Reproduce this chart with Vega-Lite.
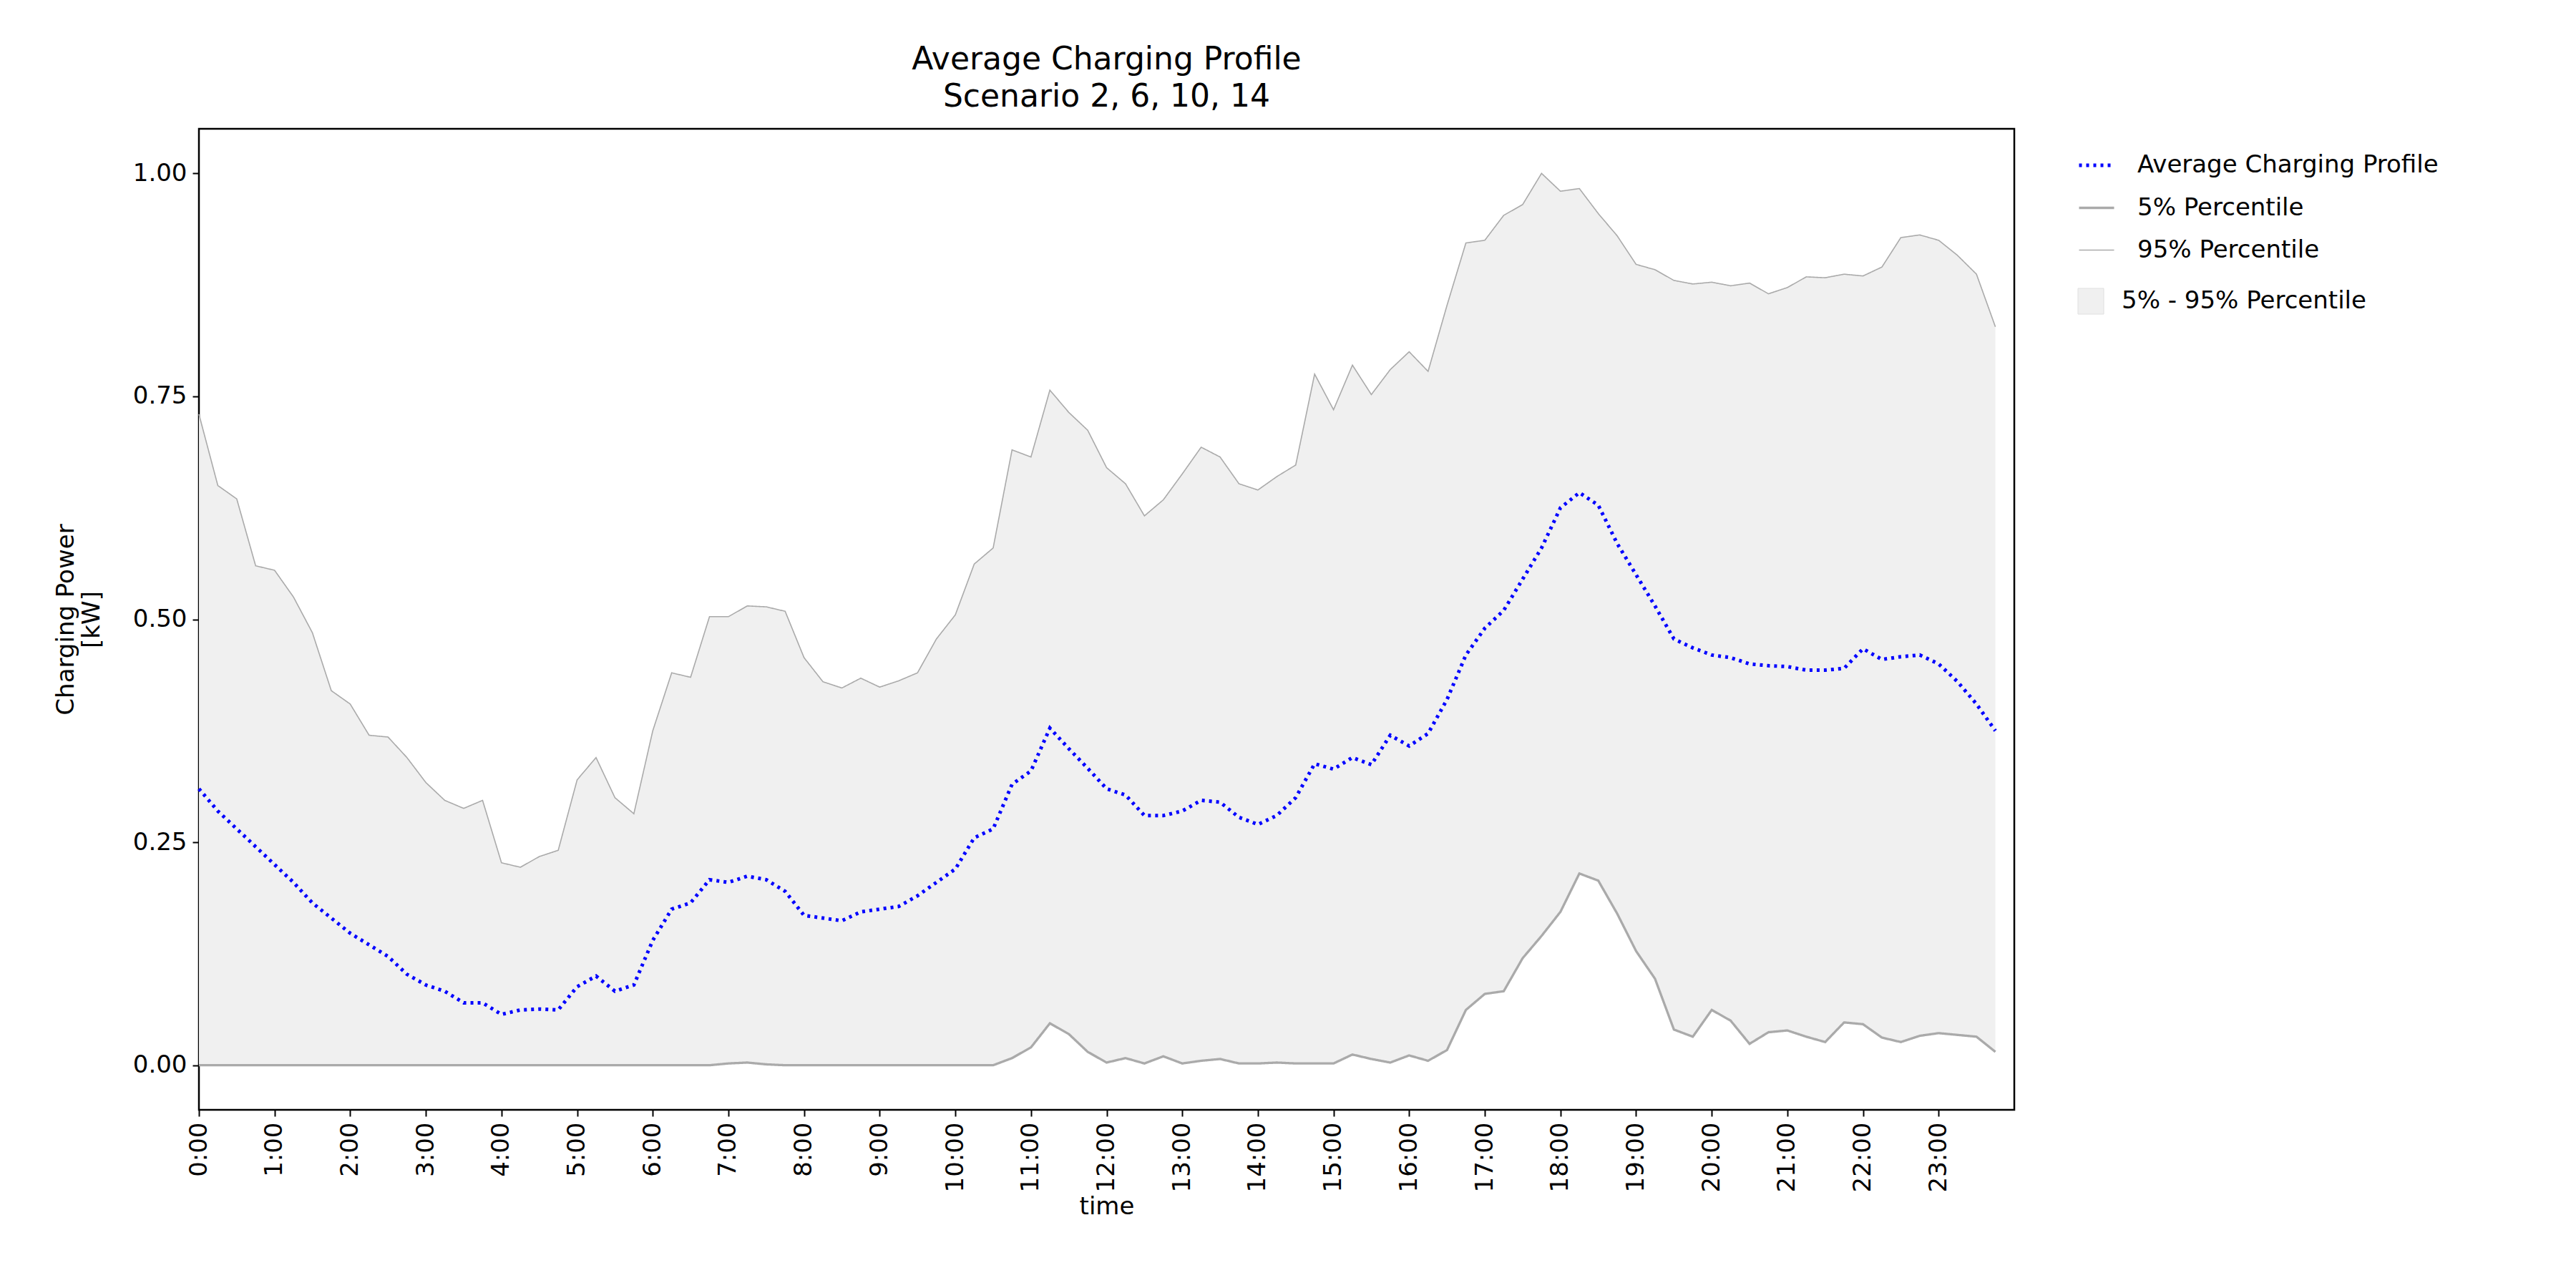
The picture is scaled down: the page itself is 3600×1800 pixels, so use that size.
{
  "$schema": "https://vega.github.io/schema/vega-lite/v6.json",
  "width": 2537,
  "height": 1371,
  "padding": {"left": 75, "top": 62, "right": 20, "bottom": 20},
  "background": "white",
  "config": {
    "font": "DejaVu Sans",
    "view": {"stroke": "black", "strokeWidth": 2.5},
    "axis": {"grid": false, "labelFontSize": 34, "titleFontSize": 34, "labelColor": "black", "titleColor": "black", "domain": false, "tickColor": "black", "tickSize": 9, "tickWidth": 2, "labelPadding": 8, "titleFontWeight": "normal"},
    "legend": {"labelFontSize": 34, "labelColor": "black", "labelLimit": 1000, "rowPadding": 16, "labelOffset": 30}
  },
  "title": {"text": ["Average Charging Profile", "Scenario 2, 6, 10, 14"], "fontSize": 44, "fontWeight": "normal", "anchor": "middle", "offset": 22, "lineHeight": 52},
  "data": {"values": [
    {"t":0,"avg":0.31,"p5":0,"p95":0.73},{"t":0.25,"avg":0.285,"p5":0,"p95":0.65},{"t":0.5,"avg":0.265,"p5":0,"p95":0.635},{"t":0.75,"avg":0.245,"p5":0,"p95":0.56},
    {"t":1,"avg":0.225,"p5":0,"p95":0.555},{"t":1.25,"avg":0.205,"p5":0,"p95":0.525},{"t":1.5,"avg":0.182,"p5":0,"p95":0.485},{"t":1.75,"avg":0.165,"p5":0,"p95":0.42},
    {"t":2,"avg":0.148,"p5":0,"p95":0.405},{"t":2.25,"avg":0.135,"p5":0,"p95":0.37},{"t":2.5,"avg":0.122,"p5":0,"p95":0.368},{"t":2.75,"avg":0.102,"p5":0,"p95":0.345},
    {"t":3,"avg":0.09,"p5":0,"p95":0.317},{"t":3.25,"avg":0.083,"p5":0,"p95":0.297},{"t":3.5,"avg":0.07,"p5":0,"p95":0.288},{"t":3.75,"avg":0.07,"p5":0,"p95":0.297},
    {"t":4,"avg":0.057,"p5":0,"p95":0.227},{"t":4.25,"avg":0.062,"p5":0,"p95":0.222},{"t":4.5,"avg":0.063,"p5":0,"p95":0.234},{"t":4.75,"avg":0.062,"p5":0,"p95":0.241},
    {"t":5,"avg":0.088,"p5":0,"p95":0.32},{"t":5.25,"avg":0.1,"p5":0,"p95":0.345},{"t":5.5,"avg":0.083,"p5":0,"p95":0.3},{"t":5.75,"avg":0.09,"p5":0,"p95":0.282},
    {"t":6,"avg":0.14,"p5":0,"p95":0.375},{"t":6.25,"avg":0.175,"p5":0,"p95":0.44},{"t":6.5,"avg":0.182,"p5":0,"p95":0.435},{"t":6.75,"avg":0.208,"p5":0,"p95":0.503},
    {"t":7,"avg":0.205,"p5":0.002,"p95":0.503},{"t":7.25,"avg":0.212,"p5":0.003,"p95":0.515},{"t":7.5,"avg":0.208,"p5":0.001,"p95":0.514},{"t":7.75,"avg":0.195,"p5":0,"p95":0.509},
    {"t":8,"avg":0.168,"p5":0,"p95":0.457},{"t":8.25,"avg":0.165,"p5":0,"p95":0.43},{"t":8.5,"avg":0.162,"p5":0,"p95":0.423},{"t":8.75,"avg":0.172,"p5":0,"p95":0.434},
    {"t":9,"avg":0.175,"p5":0,"p95":0.424},{"t":9.25,"avg":0.178,"p5":0,"p95":0.431},{"t":9.5,"avg":0.19,"p5":0,"p95":0.44},{"t":9.75,"avg":0.205,"p5":0,"p95":0.478},
    {"t":10,"avg":0.22,"p5":0,"p95":0.505},{"t":10.25,"avg":0.255,"p5":0,"p95":0.562},{"t":10.5,"avg":0.265,"p5":0,"p95":0.58},{"t":10.75,"avg":0.315,"p5":0.008,"p95":0.69},
    {"t":11,"avg":0.33,"p5":0.02,"p95":0.682},{"t":11.25,"avg":0.378,"p5":0.047,"p95":0.757},{"t":11.5,"avg":0.355,"p5":0.035,"p95":0.732},{"t":11.75,"avg":0.333,"p5":0.015,"p95":0.712},
    {"t":12,"avg":0.31,"p5":0.003,"p95":0.67},{"t":12.25,"avg":0.303,"p5":0.008,"p95":0.652},{"t":12.5,"avg":0.28,"p5":0.002,"p95":0.616},{"t":12.75,"avg":0.28,"p5":0.01,"p95":0.634},
    {"t":13,"avg":0.285,"p5":0.002,"p95":0.663},{"t":13.25,"avg":0.297,"p5":0.005,"p95":0.693},{"t":13.5,"avg":0.295,"p5":0.007,"p95":0.682},{"t":13.75,"avg":0.278,"p5":0.002,"p95":0.652},
    {"t":14,"avg":0.27,"p5":0.002,"p95":0.645},{"t":14.25,"avg":0.28,"p5":0.003,"p95":0.66},{"t":14.5,"avg":0.3,"p5":0.002,"p95":0.673},{"t":14.75,"avg":0.338,"p5":0.002,"p95":0.775},
    {"t":15,"avg":0.332,"p5":0.002,"p95":0.735},{"t":15.25,"avg":0.345,"p5":0.012,"p95":0.785},{"t":15.5,"avg":0.337,"p5":0.007,"p95":0.752},{"t":15.75,"avg":0.37,"p5":0.003,"p95":0.78},
    {"t":16,"avg":0.358,"p5":0.011,"p95":0.8},{"t":16.25,"avg":0.372,"p5":0.005,"p95":0.778},{"t":16.5,"avg":0.41,"p5":0.017,"p95":0.852},{"t":16.75,"avg":0.46,"p5":0.062,"p95":0.922},
    {"t":17,"avg":0.49,"p5":0.08,"p95":0.925},{"t":17.25,"avg":0.51,"p5":0.083,"p95":0.953},{"t":17.5,"avg":0.545,"p5":0.12,"p95":0.965},{"t":17.75,"avg":0.58,"p5":0.145,"p95":1.0},
    {"t":18,"avg":0.625,"p5":0.172,"p95":0.98},{"t":18.25,"avg":0.642,"p5":0.215,"p95":0.983},{"t":18.5,"avg":0.628,"p5":0.207,"p95":0.955},{"t":18.75,"avg":0.585,"p5":0.17,"p95":0.93},
    {"t":19,"avg":0.55,"p5":0.128,"p95":0.898},{"t":19.25,"avg":0.515,"p5":0.097,"p95":0.892},{"t":19.5,"avg":0.478,"p5":0.04,"p95":0.88},{"t":19.75,"avg":0.468,"p5":0.032,"p95":0.876},
    {"t":20,"avg":0.46,"p5":0.062,"p95":0.878},{"t":20.25,"avg":0.457,"p5":0.05,"p95":0.874},{"t":20.5,"avg":0.45,"p5":0.024,"p95":0.877},{"t":20.75,"avg":0.448,"p5":0.037,"p95":0.865},
    {"t":21,"avg":0.447,"p5":0.039,"p95":0.872},{"t":21.25,"avg":0.443,"p5":0.032,"p95":0.884},{"t":21.5,"avg":0.443,"p5":0.026,"p95":0.883},{"t":21.75,"avg":0.445,"p5":0.048,"p95":0.887},
    {"t":22,"avg":0.467,"p5":0.046,"p95":0.885},{"t":22.25,"avg":0.455,"p5":0.031,"p95":0.895},{"t":22.5,"avg":0.458,"p5":0.026,"p95":0.928},{"t":22.75,"avg":0.46,"p5":0.033,"p95":0.931},
    {"t":23,"avg":0.45,"p5":0.036,"p95":0.925},{"t":23.25,"avg":0.43,"p5":0.034,"p95":0.908},{"t":23.5,"avg":0.405,"p5":0.032,"p95":0.887},{"t":23.75,"avg":0.375,"p5":0.015,"p95":0.828}
  ]},
  "encoding": {
    "x": {"field": "t", "type": "quantitative", "title": "time",
      "scale": {"domain": [0, 24], "nice": false, "zero": false},
      "axis": {"values": [0,1,2,3,4,5,6,7,8,9,10,11,12,13,14,15,16,17,18,19,20,21,22,23], "labelExpr": "datum.value + ':00'", "labelAngle": -90, "labelAlign": "right", "labelBaseline": "middle", "titlePadding": 4}}
  },
  "layer": [
    {
      "mark": {"type": "area", "opacity": 1},
      "encoding": {
        "y": {"field": "p95", "type": "quantitative"},
        "y2": {"field": "p5"},
        "fill": {"datum": "5% - 95% Percentile", "type": "nominal",
          "scale": {"range": ["#f0f0f0"]},
          "legend": {"title": null, "orient": "none", "legendX": 2625, "legendY": 222, "symbolType": "square", "symbolSize": 1300, "symbolStrokeColor": "#e0e0e0", "symbolStrokeWidth": 1, "labelOffset": 24}}
      }
    },
    {
      "transform": [{"fold": ["avg", "p5", "p95"], "as": ["series", "value"]}],
      "mark": {"type": "line"},
      "encoding": {
        "y": {"field": "value", "type": "quantitative",
          "title": ["Charging Power", "[kW]"],
          "scale": {"domain": [-0.05, 1.05], "nice": false, "zero": false},
          "axis": {"values": [0, 0.25, 0.5, 0.75, 1], "format": ".2f", "titlePadding": 40}},
        "color": {"field": "series", "type": "nominal",
          "scale": {"domain": ["avg", "p5", "p95"], "range": ["#0000ff", "#aaaaaa", "#aaaaaa"]},
          "legend": {"title": null, "orient": "none", "legendX": 2625, "legendY": 24, "symbolType": "stroke", "symbolSize": 2400,
            "labelExpr": "datum.value == 'avg' ? 'Average Charging Profile' : datum.value == 'p5' ? '5% Percentile' : '95% Percentile'"}},
        "strokeDash": {"field": "series", "type": "nominal",
          "scale": {"domain": ["avg", "p5", "p95"], "range": [[4, 6], [1, 0], [1, 0]]},
          "legend": null},
        "strokeWidth": {"field": "series", "type": "nominal",
          "scale": {"domain": ["avg", "p5", "p95"], "range": [5, 1.6, 1.6]},
          "legend": null}
      }
    }
  ]
}
